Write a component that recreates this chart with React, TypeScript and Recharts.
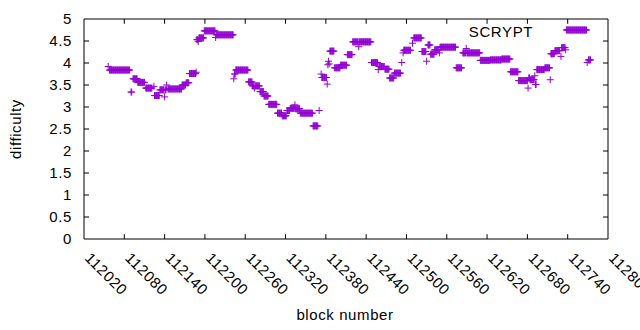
import { ScatterChart, Scatter, XAxis, YAxis, ReferenceArea, ReferenceLine } from 'recharts';

const xTicks = [112020, 112080, 112140, 112200, 112260, 112320, 112380, 112440, 112500, 112560, 112620, 112680, 112740, 112800];
const yTicks = [0, 0.5, 1, 1.5, 2, 2.5, 3, 3.5, 4, 4.5, 5];
const seriesName = 'SCRYPT';

// blocks in a row with the same difficulty: [first block, last block, difficulty]
const scryptRuns: [number, number, number][] = [
  [112056, 112056, 3.92],
  [112058, 112088, 3.84],
  [112090, 112091, 3.34],
  [112093, 112099, 3.64],
  [112100, 112110, 3.56],
  [112112, 112121, 3.43],
  [112124, 112124, 3.47],
  [112125, 112132, 3.26],
  [112133, 112139, 3.39],
  [112140, 112140, 3.23],
  [112141, 112142, 3.39],
  [112143, 112143, 3.5],
  [112145, 112165, 3.41],
  [112166, 112171, 3.5],
  [112172, 112176, 3.55],
  [112177, 112186, 3.76],
  [112187, 112187, 3.79],
  [112188, 112189, 4.53],
  [112190, 112190, 4.49],
  [112191, 112198, 4.57],
  [112199, 112215, 4.73],
  [112216, 112216, 4.58],
  [112217, 112242, 4.64],
  [112243, 112243, 3.64],
  [112244, 112245, 3.75],
  [112246, 112264, 3.84],
  [112265, 112270, 3.57],
  [112271, 112273, 3.48],
  [112274, 112274, 3.43],
  [112275, 112281, 3.48],
  [112282, 112287, 3.35],
  [112288, 112294, 3.25],
  [112295, 112307, 3.06],
  [112308, 112314, 2.86],
  [112315, 112321, 2.8],
  [112322, 112326, 2.92],
  [112327, 112333, 2.97],
  [112334, 112334, 3.05],
  [112335, 112341, 2.96],
  [112342, 112360, 2.86],
  [112361, 112368, 2.57],
  [112370, 112370, 2.92],
  [112373, 112373, 3.75],
  [112374, 112381, 3.67],
  [112382, 112382, 3.52],
  [112383, 112383, 3.96],
  [112384, 112384, 4.04],
  [112385, 112385, 3.98],
  [112386, 112392, 4.27],
  [112393, 112401, 3.89],
  [112402, 112411, 3.95],
  [112412, 112419, 4.19],
  [112420, 112428, 4.48],
  [112429, 112429, 4.37],
  [112430, 112447, 4.48],
  [112448, 112457, 4.01],
  [112458, 112458, 3.85],
  [112459, 112467, 3.92],
  [112468, 112474, 3.86],
  [112475, 112481, 3.66],
  [112482, 112491, 3.77],
  [112493, 112493, 4.01],
  [112495, 112495, 4.23],
  [112496, 112506, 4.29],
  [112509, 112509, 4.45],
  [112511, 112522, 4.57],
  [112523, 112529, 4.26],
  [112530, 112530, 4.04],
  [112532, 112535, 4.41],
  [112536, 112541, 4.2],
  [112542, 112548, 4.3],
  [112549, 112549, 4.23],
  [112550, 112573, 4.36],
  [112574, 112582, 3.89],
  [112584, 112588, 4.23],
  [112589, 112589, 4.33],
  [112590, 112609, 4.23],
  [112610, 112624, 4.06],
  [112625, 112641, 4.07],
  [112642, 112654, 4.09],
  [112655, 112666, 3.8],
  [112667, 112680, 3.6],
  [112681, 112681, 3.43],
  [112682, 112683, 3.66],
  [112684, 112690, 3.62],
  [112691, 112691, 3.71],
  [112692, 112693, 3.51],
  [112694, 112705, 3.85],
  [112706, 112713, 3.89],
  [112714, 112714, 3.62],
  [112715, 112720, 4.21],
  [112721, 112728, 4.28],
  [112730, 112730, 4.15],
  [112731, 112736, 4.35],
  [112737, 112737, 4.3],
  [112738, 112768, 4.75],
  [112769, 112769, 4.01],
  [112771, 112774, 4.07],
];

const points = scryptRuns.flatMap(([from, to, difficulty]) => {
  const out: { block: number; difficulty: number }[] = [];
  for (let b = from; b <= to; b++) out.push({ block: b, difficulty });
  return out;
});

const purple = '#9400d3';
const font = '"Liberation Sans", Arial, sans-serif';
const fontSize = 15;
const spacing = 0.6;

// inward tick length, in data units (about 5px)
const xTickLen = 0.11;
const yTickLen = 7.5;

const Plus = (props: any) => {
  const { cx, cy } = props;
  if (cx == null || cy == null) return null;
  return (
    <path
      d={`M${cx - 3.5},${cy}h7M${cx},${cy - 3.5}v7`}
      stroke={purple}
      strokeWidth={1}
      fill="none"
    />
  );
};

const XTick = ({ x, y, payload }: any) => (
  <text
    x={x}
    y={y}
    transform={`rotate(45 ${x} ${y})`}
    fontSize={fontSize}
    fontFamily={font}
    letterSpacing={spacing}
    fill="#000"
  >
    {payload.value}
  </text>
);

export default function App() {
  return (
    <div style={{ position: 'absolute', left: 0, top: 0, width: 640, height: 330, background: '#fff' }}>
      <ScatterChart width={640} height={330} margin={{ top: 19, right: 32, bottom: 31, left: 0 }}>
        <XAxis
          type="number"
          dataKey="block"
          domain={[112020, 112800]}
          ticks={xTicks}
          interval={0}
          allowDataOverflow
          axisLine={false}
          tickLine={false}
          tickSize={0}
          tickMargin={20}
          height={60}
          tick={<XTick />}
        />
        <YAxis
          type="number"
          dataKey="difficulty"
          domain={[0, 5]}
          ticks={yTicks}
          interval={0}
          allowDataOverflow
          axisLine={false}
          tickLine={false}
          tickSize={0}
          tickMargin={12}
          width={84}
          tick={{ fontSize, fontFamily: font, fill: '#000', letterSpacing: spacing }}
        />
        <ReferenceArea x1={112020} x2={112800} y1={0} y2={5} fill="none" fillOpacity={0} stroke="#000" strokeWidth={1} />
        {xTicks.slice(1, -1).map((t) => (
          <ReferenceLine key={`xb${t}`} segment={[{ x: t, y: 0 }, { x: t, y: xTickLen }]} stroke="#000" />
        ))}
        {xTicks.slice(1, -1).map((t) => (
          <ReferenceLine key={`xt${t}`} segment={[{ x: t, y: 5 }, { x: t, y: 5 - xTickLen }]} stroke="#000" />
        ))}
        {yTicks.slice(1, -1).map((t) => (
          <ReferenceLine key={`yl${t}`} segment={[{ x: 112020, y: t }, { x: 112020 + yTickLen, y: t }]} stroke="#000" />
        ))}
        {yTicks.slice(1, -1).map((t) => (
          <ReferenceLine key={`yr${t}`} segment={[{ x: 112800, y: t }, { x: 112800 - yTickLen, y: t }]} stroke="#000" />
        ))}
        <Scatter name={seriesName} data={points} shape={<Plus />} isAnimationActive={false} />
      </ScatterChart>
      <svg width={640} height={330} style={{ position: 'absolute', left: 0, top: 0, pointerEvents: 'none' }}>
        <text x={21} y={129} transform="rotate(-90 21 129)" textAnchor="middle" fontSize={fontSize} fontFamily={font} letterSpacing={spacing}>
          difficulty
        </text>
        <text x={345} y={320} textAnchor="middle" fontSize={fontSize} fontFamily={font} letterSpacing={spacing}>
          block number
        </text>
        <text x={533} y={37} textAnchor="end" fontSize={fontSize} fontFamily={font} letterSpacing={spacing}>
          {seriesName}
        </text>
      </svg>
    </div>
  );
}
